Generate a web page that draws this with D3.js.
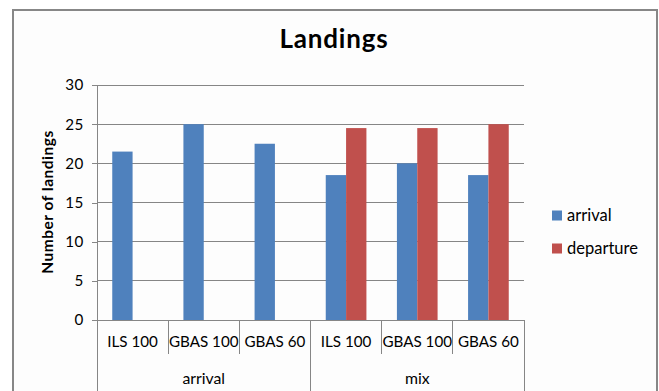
<!DOCTYPE html>
<html><head><meta charset="utf-8">
<script src="https://cdn.jsdelivr.net/npm/d3@7"></script>
<style>
html,body{margin:0;padding:0;background:#fff;}
svg{display:block;font-family:Lato,"Open Sans",sans-serif;}
</style></head><body>
<svg id="chart" width="659" height="391"></svg>
<script>
const title = "Landings";
const yAxisTitle = "Number of landings";
const categories = ["ILS 100","GBAS 100","GBAS 60","ILS 100","GBAS 100","GBAS 60"];
const groups = ["arrival","mix"];
const groupSizes = [3,3];
const seriesNames = ["arrival","departure"];
const arrivalValues = [21.5,25,22.5,18.5,20,18.5];
const departureValues = [null,null,null,24.5,24.5,25];
const yTicks = [0,5,10,15,20,25,30];
const colors = ["#4F81BD","#C0504D"];

(function(){
const svg = d3.select("#chart");
const W = 659, H = 391;
const pLeft = 97, pRight = 524, pTop = 85, pBottom = 320;
const labelSize = 15.2;

// frame
svg.append("rect").attr("x",13).attr("y",10).attr("width",644).attr("height",400)
  .attr("fill","#fdfdfd").attr("stroke","#878787").attr("stroke-width",2);

const x = d3.scaleBand().domain(d3.range(categories.length)).range([pLeft,pRight]).paddingInner(0).paddingOuter(0);
const xs = d3.scaleBand().domain(seriesNames).range([0,x.bandwidth()]).paddingInner(0).paddingOuter(0.75);
const y = d3.scaleLinear().domain([0,30]).range([pBottom,pTop]);

// gridlines
svg.append("g").selectAll("line").data(yTicks.filter(d=>d>0)).join("line")
  .attr("x1",pLeft).attr("x2",pRight).attr("y1",d=>y(d)).attr("y2",d=>y(d))
  .attr("stroke","#868686").attr("stroke-width",1).attr("shape-rendering","crispEdges");

// y axis
const yAxis = d3.axisLeft(y).tickValues(yTicks).tickSize(5).tickPadding(8).tickFormat(d3.format("d"));
const gy = svg.append("g").attr("transform",`translate(${pLeft},0)`).call(yAxis);
gy.select(".domain").attr("stroke","#868686").attr("d",`M0,${pTop}V${pBottom}`).attr("shape-rendering","crispEdges");
gy.selectAll(".tick line").attr("stroke","#868686").attr("shape-rendering","crispEdges");
gy.selectAll("text").attr("font-size",labelSize).attr("fill","#000").attr("font-family","Lato, sans-serif")
  .attr("letter-spacing","0.6px");

// bars
const series = [arrivalValues, departureValues];
series.forEach((vals,si)=>{
  svg.append("g").selectAll("rect").data(vals.map((v,i)=>({v,i})).filter(d=>d.v!==null)).join("rect")
    .attr("x",d=>x(d.i)+xs(seriesNames[si]))
    .attr("width",xs.bandwidth())
    .attr("y",d=>y(d.v))
    .attr("height",d=>y(0)-y(d.v))
    .attr("fill",colors[si]);
});

// x axis baseline
svg.append("line").attr("x1",pLeft-5).attr("x2",pRight).attr("y1",y(0)).attr("y2",y(0))
  .attr("stroke","#868686").attr("shape-rendering","crispEdges");

// category dividers
const boundaries = [0];
groupSizes.reduce((acc,s)=>{boundaries.push(acc+s);return acc+s;},0);
d3.range(categories.length+1).forEach(i=>{
  const xp = i<categories.length ? x(i) : pRight;
  const isOuter = boundaries.includes(i);
  svg.append("line").attr("x1",xp).attr("x2",xp).attr("y1",y(0)).attr("y2",isOuter?H:354)
    .attr("stroke","#868686").attr("shape-rendering","crispEdges");
});

// category labels
svg.append("g").selectAll("text").data(categories).join("text")
  .attr("x",(d,i)=>x(i)+x.bandwidth()/2).attr("y",342).attr("dy","0.35em")
  .attr("text-anchor","middle").attr("font-size",labelSize).attr("fill","#000").text(d=>d);

// group labels
let start = 0;
groups.forEach((g,gi)=>{
  const x0 = x(start), x1 = (start+groupSizes[gi]<categories.length)? x(start+groupSizes[gi]) : pRight;
  svg.append("text").attr("x",(x0+x1)/2).attr("y",378).attr("dy","0.35em")
    .attr("text-anchor","middle").attr("font-size",labelSize+0.6).attr("fill","#000").text(g);
  start += groupSizes[gi];
});

// title
svg.append("text").attr("x",334).attr("y",48).attr("text-anchor","middle")
  .attr("font-size",26).attr("font-weight","bold").attr("letter-spacing","0.8px").attr("fill","#000").text(title);

// y axis title
svg.append("text").attr("transform","translate(48,202) rotate(-90)").attr("dy","0.35em")
  .attr("text-anchor","middle").attr("font-size",15.5).attr("font-weight","bold").attr("letter-spacing","0.5px")
  .attr("fill","#000").text(yAxisTitle);

// legend
const lg = svg.append("g");
seriesNames.forEach((s,i)=>{
  const cy = 215.5 + i*33;
  lg.append("rect").attr("x",552).attr("y",cy-5).attr("width",10).attr("height",10).attr("fill",colors[i]);
  lg.append("text").attr("x",567).attr("y",cy).attr("dy","0.35em").attr("font-size",16.5).attr("fill","#000").text(s);
});
})();
</script>
</body></html>
